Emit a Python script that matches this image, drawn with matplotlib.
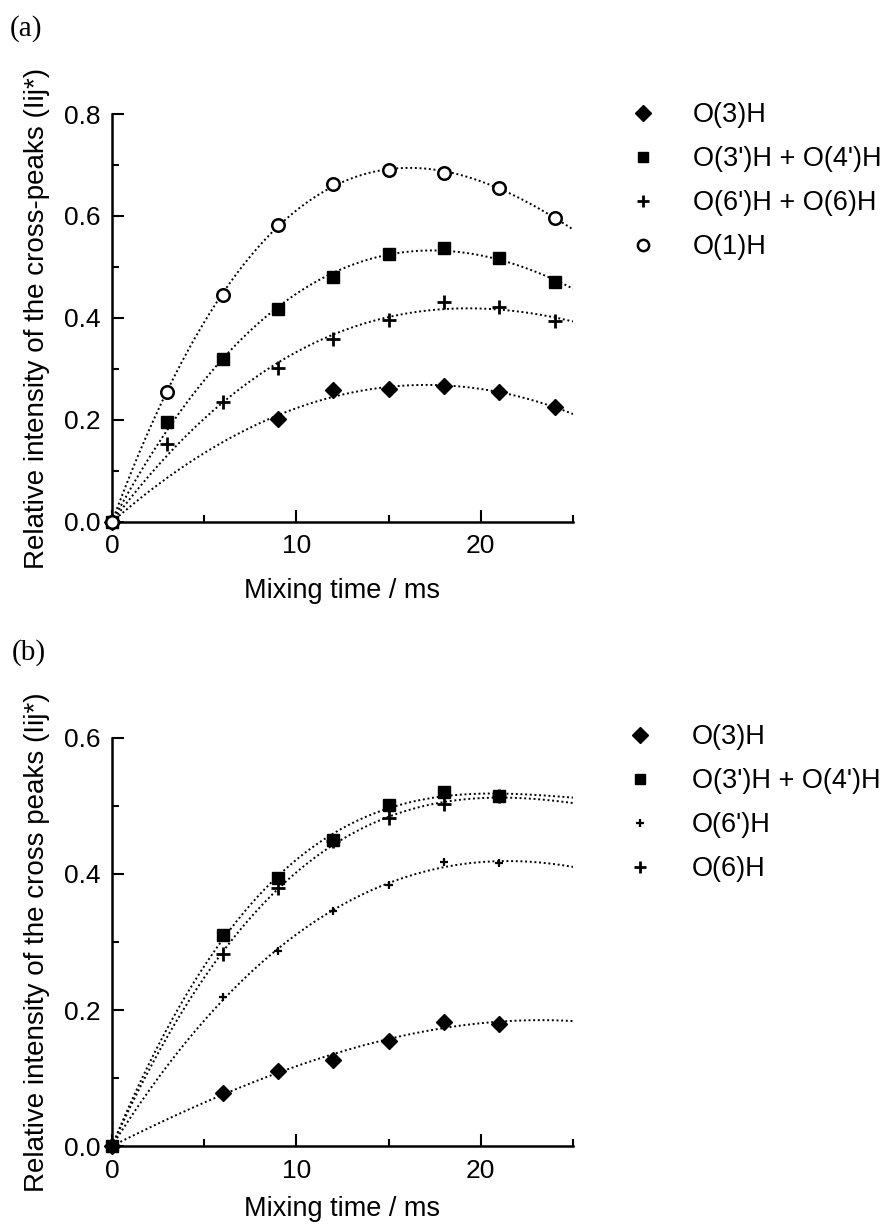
import numpy as np
import matplotlib.pyplot as plt
from matplotlib.ticker import MultipleLocator

plt.rcParams['font.family'] = ['Liberation Sans', 'DejaVu Sans']

# panel (a) data, mixing time in ms
t_a = [0, 3, 6, 9, 12, 15, 18, 21, 24]
t_a_o3 = [0, 9, 12, 15, 18, 21, 24]
a_o3 = [0, 0.202, 0.258, 0.260, 0.267, 0.254, 0.226]
a_o34 = [0, 0.196, 0.319, 0.417, 0.480, 0.525, 0.538, 0.518, 0.471]
a_o66 = [0, 0.153, 0.236, 0.302, 0.359, 0.396, 0.432, 0.421, 0.395]
a_o1 = [0, 0.254, 0.446, 0.582, 0.663, 0.690, 0.684, 0.655, 0.597]
labels_a = ["O(3)H", "O(3')H + O(4')H", "O(6')H + O(6)H", "O(1)H"]

# panel (b) data
t_b = [0, 6, 9, 12, 15, 18, 21]
b_o3 = [0, 0.078, 0.111, 0.127, 0.155, 0.183, 0.179]
b_o34 = [0, 0.311, 0.394, 0.450, 0.501, 0.520, 0.515]
b_o6p = [0, 0.219, 0.287, 0.345, 0.384, 0.417, 0.416]
b_o6 = [0, 0.282, 0.379, 0.448, 0.482, 0.503, 0.514]
labels_b = ["O(3)H", "O(3')H + O(4')H", "O(6')H", "O(6)H"]


def fit_curve(t, y):
    # cubic least squares fit forced through the origin
    t = np.asarray(t, float)
    A = np.vstack([t, t**2, t**3]).T
    c = np.linalg.lstsq(A, np.asarray(y, float), rcond=None)[0]
    tt = np.linspace(0, 25, 200)
    return tt, c[0]*tt + c[1]*tt**2 + c[2]*tt**3


FS = 19.5
dot = (0, (1, 1.4))
styles_a = [dict(marker='D', ms=8.5, mfc='k', mec='k'),
            dict(marker='s', ms=8.5, mfc='k', mec='k'),
            dict(marker='+', ms=10, mew=2.0, mec='k'),
            dict(marker='o', ms=9, mfc='white', mec='k', mew=1.8)]
styles_b = [dict(marker='D', ms=8.5, mfc='k', mec='k'),
            dict(marker='s', ms=8.5, mfc='k', mec='k'),
            dict(marker='+', ms=6, mew=1.6, mec='k'),
            dict(marker='+', ms=10, mew=2.0, mec='k')]

fig = plt.figure(figsize=(8.88, 12.26), dpi=100)
ax_a = fig.add_axes([112/888, 1-522/1226, 461/888, 408/1226])
ax_b = fig.add_axes([112/888, 1-1146/1226, 461/888, 408/1226])

series_a = [(t_a_o3, a_o3), (t_a, a_o34), (t_a, a_o66), (t_a, a_o1)]
series_b = [(t_b, b_o3), (t_b, b_o34), (t_b, b_o6p), (t_b, b_o6)]

for ax, series, styles, labels in [(ax_a, series_a, styles_a, labels_a),
                                   (ax_b, series_b, styles_b, labels_b)]:
    for (t, y), st, lab in zip(series, styles, labels):
        tt, yy = fit_curve(t, y)
        ax.plot(tt, yy, color='k', lw=1.4, ls=dot)
        ax.plot(t, y, ls='none', label=lab, clip_on=False, zorder=5, **st)

for ax, ytop, ylab, xpad in [(ax_a, 0.8, "Relative intensity of the cross-peaks (Iij*)", 14),
                             (ax_b, 0.6, "Relative intensity of the cross peaks (Iij*)", 10)]:
    ax.set_xlim(0, 25)
    ax.set_ylim(0, ytop)
    ax.spines['top'].set_visible(False)
    ax.spines['right'].set_visible(False)
    ax.spines['left'].set_linewidth(1.8)
    ax.spines['bottom'].set_linewidth(1.8)
    ax.xaxis.set_major_locator(MultipleLocator(10))
    ax.xaxis.set_minor_locator(MultipleLocator(5))
    ax.yaxis.set_major_locator(MultipleLocator(0.2))
    ax.yaxis.set_minor_locator(MultipleLocator(0.1))
    ax.yaxis.set_major_formatter(plt.FormatStrFormatter('%.1f'))
    ax.tick_params(which='both', direction='in', labelsize=19, width=1.5)
    ax.tick_params(which='major', length=8.5)
    ax.tick_params(which='minor', length=5)
    ax.tick_params(axis='x', pad=9)
    ax.tick_params(axis='y', pad=8)
    ax.set_xlabel("Mixing time / ms", fontsize=FS, labelpad=xpad)
    ax.set_ylabel(ylab, fontsize=20, labelpad=10)
    ax.patch.set_visible(False)

leg_kw = dict(bbox_transform=fig.transFigure, frameon=False, fontsize=FS,
              handlelength=1.0, labelspacing=0.67, borderpad=0,
              borderaxespad=0, markerscale=0.9, numpoints=1, loc='upper left')
ax_a.legend(bbox_to_anchor=(629/888, 1-102/1226), handletextpad=1.35, **leg_kw)
ax_b.legend(bbox_to_anchor=(626/888, 1-724/1226), handletextpad=1.43, **leg_kw)

fig.text(10/888, 1-29/1226, "(a)", fontsize=21, family='Liberation Serif', va='center')
fig.text(12/888, 1-653/1226, "(b)", fontsize=21, family='Liberation Serif', va='center')

fig.savefig("out.png", dpi=100)
